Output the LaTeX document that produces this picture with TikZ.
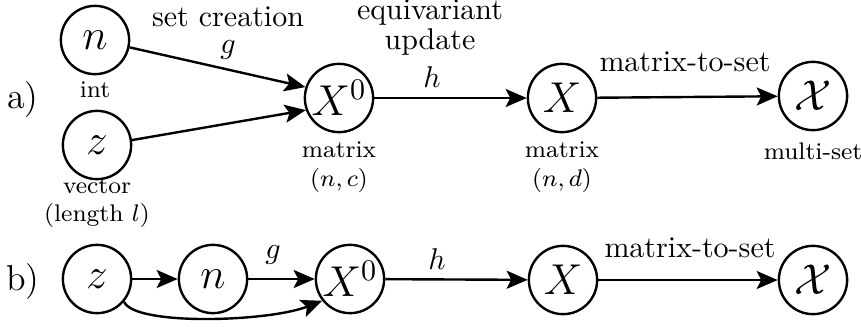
\documentclass[tikz,border=0pt]{standalone}
\usetikzlibrary{arrows.meta}
\begin{document}
\begin{tikzpicture}[x=0.01172cm, y=-0.01172cm,
    var/.style={circle, draw, thick, minimum size=0.8cm, inner sep=0pt, font=\Large},
    arr/.style={thick, -{Stealth[length=7pt, width=6pt, inset=1.5pt]}},
    small/.style={font=\footnotesize, align=center}]
\useasboundingbox (0,0) rectangle (861,326);
\node[font=\large] (la) at (23,100) {a)};
\node[var] (na) at (95,40) {$n$};
\node[var] (za) at (97,145) {$z$};
\node[var] (xoa) at (339,98) {$X^0$};
\node[var] (xa) at (562,98) {$X$};
\node[var] (sa) at (813,96) {$\mathcal{X}$};
\node[small] (ia) at (95,90) {int};
\node[small] (va) at (97,203) {vector\\(length $l$)};
\node[small] (mca) at (339,167) {matrix\\$(n,c)$};
\node[small] (mda) at (562,167) {matrix\\$(n,d)$};
\node[small] (msa) at (813,151) {multi-set};
\draw[arr] (na.-12) -- (xoa.162);
\draw[arr] (za.8) -- (xoa.200);
\draw[arr] (xoa) -- (xa);
\draw[arr] (xa) -- (sa);
\node (sc) at (228,17) {set creation};
\node (ga) at (228,50) {$g$};
\node (eu) at (430,28) [align=center] {equivariant\\[-2pt]update};
\node (ha) at (432,77) {$h$};
\node (mta) at (685,62) {matrix-to-set};
\node[font=\large] (lb) at (23,282) {b)};
\node[var] (zb) at (97,279) {$z$};
\node[var] (nb) at (213,279) {$n$};
\node[var] (xob) at (350,279) {$X^0$};
\node[var] (xb) at (563,280) {$X$};
\node[var] (sb) at (813,280) {$\mathcal{X}$};
\draw[arr] (zb) -- (nb);
\draw[arr] (nb) -- (xob);
\draw[arr] (xob) -- (xb);
\draw[arr] (xb) -- (sb);
\draw[arr] (zb.-40) .. controls (134,326) and (268,322) .. (xob.218);
\node (gb) at (273,255) {$g$};
\node (hb) at (437,259) {$h$};
\node (mtb) at (690,248) {matrix-to-set};
\end{tikzpicture}
\end{document}
